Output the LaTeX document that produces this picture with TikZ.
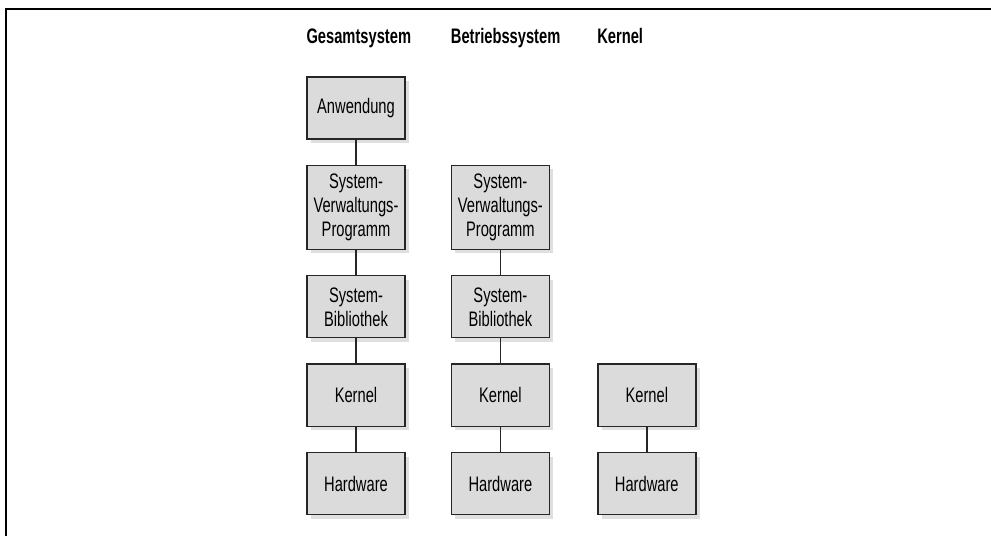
\documentclass[tikz,border=0pt]{standalone}
\usepackage{fontspec}
\setmainfont[FakeStretch=0.7]{Liberation Sans}
\usetikzlibrary{positioning,shadows}

\tikzset{
  layer/.style={draw=black!85, line width=1.4pt, fill=black!14,
    minimum width=98pt, minimum height=62pt, inner sep=2pt,
    align=center, font=\fontsize{21}{24}\selectfont,
    drop shadow={shadow xshift=4pt, shadow yshift=-4pt, fill=black!25}},
  header/.style={font=\fontsize{21}{24}\selectfont\bfseries, inner sep=0pt, anchor=base west},
  link/.style={draw=black!85, line width=1.3pt}
}

\begin{document}
\begin{tikzpicture}[x=1pt, y=1pt, node distance=25pt]

  \useasboundingbox (0,0) rectangle (991,536);
  \draw [line width=1.3pt] (991,527) -- (6,527) -- (6,0);

  % Gesamtsystem
  \node (Anw1) [layer] at (356,428) {Anwendung};
  \node (Svp1) [layer, minimum height=84pt, below=of Anw1] {System-\\Verwaltungs-\\Programm};
  \node (Bib1) [layer, below=of Svp1] {System-\\Bibliothek};
  \node (Ker1) [layer, below=of Bib1] {Kernel};
  \node (Hw1) [layer, below=of Ker1] {Hardware};

  % Betriebssystem
  \node (Svp2) [layer, minimum height=84pt, right=45pt of Svp1] {System-\\Verwaltungs-\\Programm};
  \node (Bib2) [layer, below=of Svp2] {System-\\Bibliothek};
  \node (Ker2) [layer, below=of Bib2] {Kernel};
  \node (Hw2) [layer, below=of Ker2] {Hardware};

  % Kernel
  \node (Ker3) [layer, right=47pt of Ker2] {Kernel};
  \node (Hw3) [layer, below=of Ker3] {Hardware};

  \node (HGes) [header, above=33pt of Anw1.north west, anchor=base west] {Gesamtsystem};
  \node (HBet) [header] at (HGes.base -| Svp2.west) {Betriebssystem};
  \node (HKer) [header] at (HGes.base -| Ker3.west) {Kernel};

  \draw [link] (Anw1) -- (Svp1);
  \draw [link] (Svp1) -- (Bib1);
  \draw [link] (Bib1) -- (Ker1);
  \draw [link] (Ker1) -- (Hw1);
  \draw [link] (Svp2) -- (Bib2);
  \draw [link] (Bib2) -- (Ker2);
  \draw [link] (Ker2) -- (Hw2);
  \draw [link, line width=1.8pt] (Ker3) -- (Hw3);

\end{tikzpicture}
\end{document}
